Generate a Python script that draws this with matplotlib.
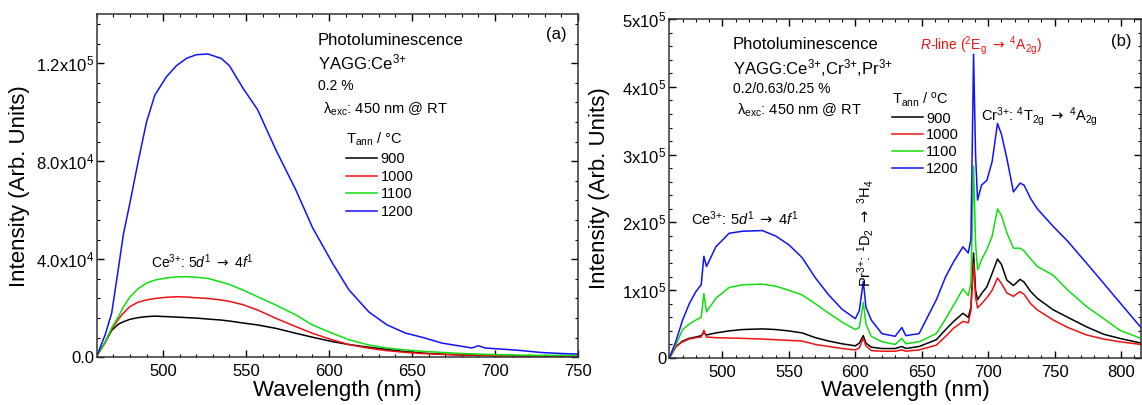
import matplotlib
matplotlib.use("Agg")
import matplotlib.pyplot as plt
from matplotlib.ticker import MultipleLocator

plt.rcParams['font.family'] = ['Liberation Sans', 'DejaVu Sans']
plt.rcParams['mathtext.fontset'] = 'custom'
plt.rcParams['mathtext.rm'] = 'Liberation Sans'
plt.rcParams['mathtext.it'] = 'Liberation Sans:italic'
plt.rcParams['mathtext.bf'] = 'Liberation Sans:bold'
plt.rcParams['mathtext.sf'] = 'DejaVu Sans'   # only used for the arrows

ARR = r'$\mathsf{\rightarrow}$'

# ---- panel (a): YAGG:Ce3+, intensity in units of 1e4 ----
wl_a = [460, 465, 469, 473, 476, 480, 485, 490, 495, 502, 508, 514, 520, 527, 535,
        540, 548, 557, 568, 580, 590, 602, 612, 624, 635, 646, 657, 668, 678, 686,
        690, 694, 700, 707, 715, 727, 738, 750]
i900_a = [0.05, 0.6, 1.1, 1.35, 1.45, 1.55, 1.62, 1.66, 1.68, 1.66, 1.64, 1.62, 1.6, 1.56, 1.52,
          1.48, 1.40, 1.32, 1.18, 0.98, 0.82, 0.64, 0.52, 0.41, 0.32, 0.23, 0.17, 0.13, 0.10, 0.09,
          0.08, 0.08, 0.07, 0.07, 0.06, 0.06, 0.05, 0.05]
i1000_a = [0.05, 0.6, 1.15, 1.55, 1.8, 2.07, 2.25, 2.34, 2.4, 2.45, 2.47, 2.46, 2.43, 2.40, 2.34,
           2.28, 2.15, 1.93, 1.59, 1.25, 0.98, 0.71, 0.52, 0.37, 0.27, 0.2, 0.15, 0.12, 0.10, 0.09,
           0.09, 0.08, 0.07, 0.07, 0.06, 0.06, 0.05, 0.05]
i1100_a = [0.05, 0.6, 1.2, 1.65, 2.05, 2.46, 2.8, 3.03, 3.15, 3.24, 3.28, 3.29, 3.27, 3.22, 3.07,
           2.97, 2.75, 2.47, 2.13, 1.73, 1.32, 0.98, 0.72, 0.5, 0.38, 0.3, 0.24, 0.2, 0.16, 0.14,
           0.13, 0.12, 0.11, 0.1, 0.09, 0.08, 0.08, 0.08]
i1200_a = [0.05, 0.9, 1.8, 3.6, 5.0, 6.3, 8.0, 9.6, 10.7, 11.45, 11.9, 12.2, 12.35, 12.38, 12.2,
           11.9, 11.0, 10.1, 8.46, 6.83, 5.3, 3.85, 2.75, 1.85, 1.32, 0.99, 0.8, 0.58, 0.47, 0.38,
           0.47, 0.38, 0.35, 0.32, 0.28, 0.2, 0.16, 0.13]

# ---- panel (b): YAGG:Ce3+,Cr3+,Pr3+, intensity in units of 1e5 ----
wl_b = [460, 465, 470, 475, 480, 484, 486, 488, 495, 505, 515, 530, 540, 550, 560,
        570, 580, 590, 600, 603, 606, 608, 612, 620, 630, 635, 638, 648, 661, 668,
        674, 681, 685, 687, 689, 690.5, 692, 695, 699, 703, 707, 710, 714, 719, 724,
        727, 732, 737, 749, 760, 774, 787, 799, 815]
i900_b = [0.0, 0.17, 0.25, 0.29, 0.31, 0.33, 0.37, 0.34, 0.37, 0.40, 0.42, 0.43, 0.42, 0.40, 0.37,
          0.30, 0.25, 0.21, 0.18, 0.22, 0.33, 0.22, 0.16, 0.14, 0.14, 0.17, 0.14, 0.17, 0.27, 0.42,
          0.54, 0.66, 0.60, 0.75, 1.55, 1.0, 0.86, 0.95, 1.05, 1.25, 1.46, 1.38, 1.15, 1.07, 1.16,
          1.12, 0.98, 0.88, 0.71, 0.60, 0.46, 0.35, 0.29, 0.22]
i1000_b = [0.0, 0.17, 0.24, 0.28, 0.30, 0.31, 0.41, 0.31, 0.30, 0.295, 0.29, 0.28, 0.27, 0.26, 0.25,
           0.20, 0.17, 0.14, 0.12, 0.15, 0.29, 0.18, 0.11, 0.10, 0.10, 0.12, 0.10, 0.12, 0.19, 0.32,
           0.44, 0.54, 0.52, 0.70, 1.40, 0.90, 0.74, 0.80, 0.89, 1.0, 1.18, 1.10, 0.96, 0.91, 0.98,
           0.94, 0.80, 0.71, 0.56, 0.45, 0.34, 0.28, 0.24, 0.20]
i1100_b = [0.0, 0.2, 0.42, 0.50, 0.56, 0.60, 0.95, 0.68, 0.88, 1.04, 1.08, 1.09, 1.06, 1.0, 0.93,
           0.80, 0.66, 0.53, 0.42, 0.45, 0.82, 0.50, 0.32, 0.24, 0.20, 0.29, 0.21, 0.24, 0.36, 0.58,
           0.78, 1.02, 0.92, 1.1, 2.83, 1.7, 1.3, 1.45, 1.6, 1.8, 2.2, 2.1, 1.85, 1.62, 1.62,
           1.58, 1.46, 1.35, 1.22, 1.0, 0.76, 0.58, 0.41, 0.29]
i1200_b = [0.0, 0.25, 0.56, 0.80, 0.98, 1.08, 1.50, 1.35, 1.64, 1.84, 1.87, 1.88, 1.80, 1.67, 1.48,
           1.18, 0.93, 0.72, 0.58, 0.70, 1.13, 0.75, 0.56, 0.36, 0.32, 0.45, 0.33, 0.36, 0.86, 1.2,
           1.42, 1.64, 1.55, 1.75, 4.48, 3.0, 2.33, 2.55, 2.62, 2.9, 3.46, 3.3, 2.95, 2.45, 2.58,
           2.55, 2.35, 2.2, 1.94, 1.72, 1.40, 1.1, 0.82, 0.45]

temps = ['900', '1000', '1100', '1200']
colors = ['black', '#ee1111', '#11dd11', '#1111ff']

yticks_a = [0, 4e4, 8e4, 1.2e5]
ylabels_a = ['0.0', r'4.0x10$^4$', r'8.0x10$^4$', r'1.2x10$^5$']
yticks_b = [0, 1e5, 2e5, 3e5, 4e5, 5e5]
ylabels_b = ['0', r'1x10$^5$', r'2x10$^5$', r'3x10$^5$', r'4x10$^5$', r'5x10$^5$']

fig = plt.figure(figsize=(11.42, 4.05), dpi=100)
ax1 = fig.add_axes([0.0847, 0.1178, 0.4214, 0.8469])
ax2 = fig.add_axes([0.5861, 0.1160, 0.4130, 0.8370])

for ys, c, t in zip([i900_a, i1000_a, i1100_a, i1200_a], colors, temps):
    ax1.plot(wl_a, [v * 1e4 for v in ys], color=c, lw=1.1, label=t)
for ys, c, t in zip([i900_b, i1000_b, i1100_b, i1200_b], colors, temps):
    ax2.plot(wl_b, [v * 1e5 for v in ys], color=c, lw=1.1, label=t)

ax1.set_xlim(460, 750)
ax1.set_ylim(0, 1.4e5)
ax2.set_xlim(460, 815)
ax2.set_ylim(0, 5e5)

ax1.set_yticks(yticks_a, ylabels_a)
ax2.set_yticks(yticks_b, ylabels_b)
ax1.xaxis.set_major_locator(MultipleLocator(50))
ax2.xaxis.set_major_locator(MultipleLocator(50))
ax1.xaxis.set_minor_locator(MultipleLocator(10))
ax2.xaxis.set_minor_locator(MultipleLocator(10))
ax1.yaxis.set_minor_locator(MultipleLocator(8000))
ax2.yaxis.set_minor_locator(MultipleLocator(2e4))

for ax, lx in [(ax1, -0.138), (ax2, -0.126)]:
    ax.tick_params(which='both', direction='in', top=True, right=True, labelsize=12)
    ax.tick_params(which='major', length=5, width=1)
    ax.tick_params(which='minor', length=2.5, width=0.8)
    ax.tick_params(axis='y', pad=2)
    ax.tick_params(axis='x', pad=5)
    for s in ax.spines.values():
        s.set_linewidth(1.1)
        s.set_color('#333333')
    ax.set_xlabel('Wavelength (nm)', fontsize=16)
    ax.set_ylabel('Intensity (Arb. Units)', fontsize=16)
    ax.yaxis.set_label_coords(lx, 0.5)
    ax.xaxis.set_label_coords(0.5, -0.066)

# panel (a) annotations
ax1.text(0.46, 0.923, 'Photoluminescence', transform=ax1.transAxes, fontsize=12, va='center')
ax1.text(0.46, 0.859, r'YAGG:Ce$^{3{+}}$', transform=ax1.transAxes, fontsize=12, va='center')
ax1.text(0.46, 0.791, '0.2 %', transform=ax1.transAxes, fontsize=10, va='center')
ax1.text(0.47, 0.724, r'λ$_{\rm exc}$: 450 nm @ RT', transform=ax1.transAxes, fontsize=10.5, va='center')
ax1.text(0.954, 0.94, '(a)', transform=ax1.transAxes, fontsize=12, ha='center', va='center')
ax1.text(0.22, 0.278, r'Ce$^{3{+}}$: 5$d^1$ ' + ARR + r' 4$f^1$', transform=ax1.transAxes,
         fontsize=10, ha='center', va='center')
leg1 = ax1.legend(loc='upper left', bbox_to_anchor=(0.519, 0.66), frameon=False,
                  title='T$_{\\rm ann}$ / °C', alignment='left', fontsize=10.5,
                  title_fontsize=10.5, handlelength=2.1, handletextpad=0.25,
                  labelspacing=0.25, borderpad=0, borderaxespad=0)

# panel (b) annotations
ax2.text(0.134, 0.926, 'Photoluminescence', transform=ax2.transAxes, fontsize=12, va='center')
ax2.text(0.134, 0.855, r'YAGG:Ce$^{3{+}}$,Cr$^{3{+}}$,Pr$^{3{+}}$', transform=ax2.transAxes,
         fontsize=12, va='center')
ax2.text(0.134, 0.793, '0.2/0.63/0.25 %', transform=ax2.transAxes, fontsize=10, va='center')
ax2.text(0.143, 0.73, r'λ$_{\rm exc}$: 450 nm @ RT', transform=ax2.transAxes, fontsize=10.5, va='center')
ax2.text(0.959, 0.933, '(b)', transform=ax2.transAxes, fontsize=12, ha='center', va='center')
ax2.text(0.5315, 0.923, r'$R$-line ($^{2}$E$_{\rm g}$ ' + ARR + r' $^{4}$A$_{\rm 2g}$)',
         transform=ax2.transAxes, fontsize=10, color='#ee1111', va='center')
ax2.text(0.661, 0.712, r'Cr$^{3{+}}$: $^{4}$T$_{\rm 2g}$ ' + ARR + r' $^{4}$A$_{\rm 2g}$',
         transform=ax2.transAxes, fontsize=10.5, va='center')
ax2.text(0.16, 0.412, r'Ce$^{3{+}}$: 5$d^1$ ' + ARR + r' 4$f^1$', transform=ax2.transAxes,
         fontsize=10.5, ha='center', va='center')
ax2.text(0.415, 0.369, r'Pr$^{3{+}}$: $^{1}$D$_{2}$ ' + ARR + r' $^{3}$H$_{4}$', transform=ax2.transAxes,
         fontsize=10.5, rotation=90, ha='center', va='center')
leg2 = ax2.legend(loc='upper left', bbox_to_anchor=(0.472, 0.79), frameon=False,
                  title='T$_{\\rm ann}$ / $^{\\rm o}$C', alignment='left', fontsize=10.5,
                  title_fontsize=10.5, handlelength=2.1, handletextpad=0.25,
                  labelspacing=0.2, borderpad=0, borderaxespad=0)

fig.savefig('out.png', dpi=100)
